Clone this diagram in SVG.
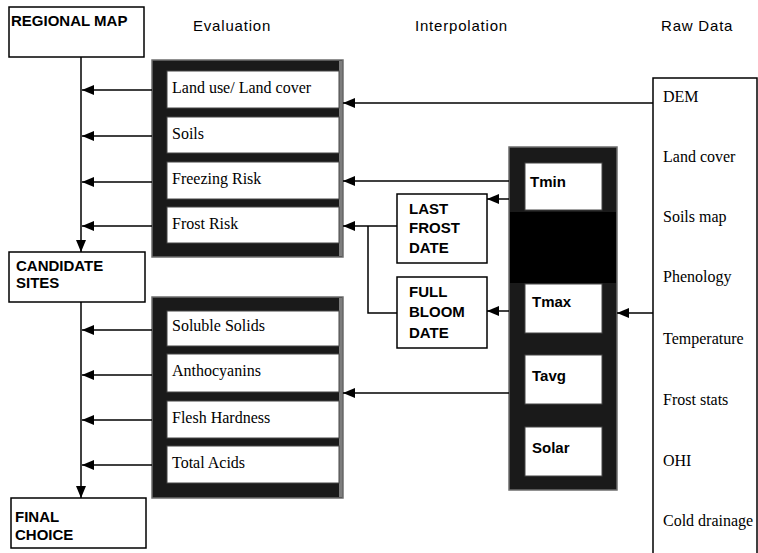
<svg xmlns="http://www.w3.org/2000/svg" width="758" height="553" viewBox="0 0 758 553">
<defs>
<marker id="ah" viewBox="0 0 12 10" refX="12" refY="5" markerWidth="12" markerHeight="10" markerUnits="userSpaceOnUse" orient="auto">
<path d="M0,0 L12,5 L0,10 Z" fill="#000"/>
</marker>
<style>
.box{fill:#fff;stroke:#000;stroke-width:1.5}
.frame{fill:#1a1a1a;stroke:#6e6e6e;stroke-width:1.5}
.strip{fill:#7d7d7d}
.inner{fill:#fff;stroke:#444;stroke-width:1}
.ser{font-family:"Liberation Serif","Times New Roman",serif;font-size:16px;fill:#000}
.bold{font-family:"Liberation Sans",Arial,sans-serif;font-weight:bold;font-size:15px;fill:#000}
.hdr{font-family:"Liberation Sans",Arial,sans-serif;font-size:15px;fill:#000;letter-spacing:0.8px}
.ln{stroke:#000;stroke-width:1.5;fill:none}
.arr{stroke:#000;stroke-width:1.5;fill:none;marker-end:url(#ah)}
</style>
</defs>

<g id="headers">
<text class="hdr" x="193" y="31">Evaluation</text>
<text class="hdr" x="415" y="31" letter-spacing="1.6">Interpolation</text>
<text class="hdr" x="661" y="31">Raw Data</text>
</g>

<g id="regional-map">
<rect class="box" x="9" y="7" width="135" height="50"/>
<text class="bold" x="11" y="26" font-size="16">REGIONAL MAP</text>
</g>

<g id="candidate-sites">
<rect class="box" x="9" y="252" width="136" height="50"/>
<text class="bold" x="16" y="271" font-size="16">CANDIDATE</text>
<text class="bold" x="16" y="288" font-size="16">SITES</text>
</g>

<g id="final-choice">
<rect class="box" x="11" y="498" width="135" height="50"/>
<text class="bold" x="15" y="522" font-size="16">FINAL</text>
<text class="bold" x="15" y="540" font-size="16">CHOICE</text>
</g>

<g id="eval-upper">
<rect class="frame" x="152" y="60" width="191" height="197"/>
<rect class="strip" x="339" y="61" width="3.5" height="195"/>
<g id="land-use"><rect class="inner" x="167" y="71" width="172" height="37"/><text class="ser" x="172" y="93">Land use/ Land cover</text></g>
<g id="soils"><rect class="inner" x="167" y="117" width="172" height="36"/><text class="ser" x="172" y="139">Soils</text></g>
<g id="freezing-risk"><rect class="inner" x="167" y="162" width="172" height="37"/><text class="ser" x="172" y="184">Freezing Risk</text></g>
<g id="frost-risk"><rect class="inner" x="167" y="207" width="172" height="36"/><text class="ser" x="172" y="229">Frost Risk</text></g>
</g>

<g id="eval-lower">
<rect class="frame" x="152" y="297" width="191" height="201"/>
<rect class="strip" x="339" y="298" width="3.5" height="199"/>
<g id="soluble-solids"><rect class="inner" x="167" y="311" width="172" height="35"/><text class="ser" x="172" y="331">Soluble Solids</text></g>
<g id="anthocyanins"><rect class="inner" x="167" y="354" width="172" height="38"/><text class="ser" x="172" y="376">Anthocyanins</text></g>
<g id="flesh-hardness"><rect class="inner" x="167" y="401" width="172" height="37"/><text class="ser" x="172" y="423">Flesh Hardness</text></g>
<g id="total-acids"><rect class="inner" x="167" y="446" width="172" height="37"/><text class="ser" x="172" y="468">Total Acids</text></g>
</g>

<g id="interp">
<rect class="frame" x="509" y="147" width="108" height="343"/>
<rect x="510" y="212" width="106" height="71" fill="#000"/>
<g id="tmin"><rect class="inner" x="525" y="163" width="77" height="47"/><text class="bold" x="530" y="187">Tmin</text></g>
<g id="tmax"><rect class="inner" x="525" y="284" width="77" height="49"/><text class="bold" x="532" y="307">Tmax</text></g>
<g id="tavg"><rect class="inner" x="525" y="355" width="77" height="49"/><text class="bold" x="532" y="381">Tavg</text></g>
<g id="solar"><rect class="inner" x="525" y="427" width="77" height="49"/><text class="bold" x="532" y="453">Solar</text></g>
</g>

<g id="last-frost-date">
<rect class="box" x="397" y="194" width="90" height="69"/>
<text class="bold" x="409" y="214">LAST</text>
<text class="bold" x="409" y="233">FROST</text>
<text class="bold" x="409" y="253">DATE</text>
</g>

<g id="full-bloom-date">
<rect class="box" x="397" y="277" width="90" height="71"/>
<text class="bold" x="409" y="297">FULL</text>
<text class="bold" x="409" y="317">BLOOM</text>
<text class="bold" x="409" y="338">DATE</text>
</g>

<g id="raw-data">
<rect class="box" x="653" y="78" width="104" height="490"/>
<text class="ser" x="663" y="102">DEM</text>
<text class="ser" x="663" y="162">Land cover</text>
<text class="ser" x="663" y="222">Soils map</text>
<text class="ser" x="663" y="282">Phenology</text>
<text class="ser" x="663" y="344">Temperature</text>
<text class="ser" x="663" y="405">Frost stats</text>
<text class="ser" x="663" y="466">OHI</text>
<text class="ser" x="663" y="526">Cold drainage</text>
</g>

<g id="connectors">
<path class="arr" d="M81,57 V252"/>
<path class="arr" d="M81,302 V498"/>
<path class="arr" d="M152,90 H82"/>
<path class="arr" d="M152,136 H82"/>
<path class="arr" d="M152,182 H82"/>
<path class="arr" d="M152,226 H82"/>
<path class="arr" d="M152,330 H82"/>
<path class="arr" d="M152,375 H82"/>
<path class="arr" d="M152,420 H82"/>
<path class="arr" d="M152,465 H82"/>
<path class="arr" d="M653,103 H343"/>
<path class="arr" d="M509,181 H343"/>
<path class="arr" d="M397,226 H343"/>
<path class="ln" d="M368,226 V313 H397"/>
<path class="arr" d="M509,199 H487"/>
<path class="arr" d="M509,311 H487"/>
<path class="arr" d="M653,313 H617"/>
<path class="arr" d="M509,393 H343"/>
</g>
</svg>
